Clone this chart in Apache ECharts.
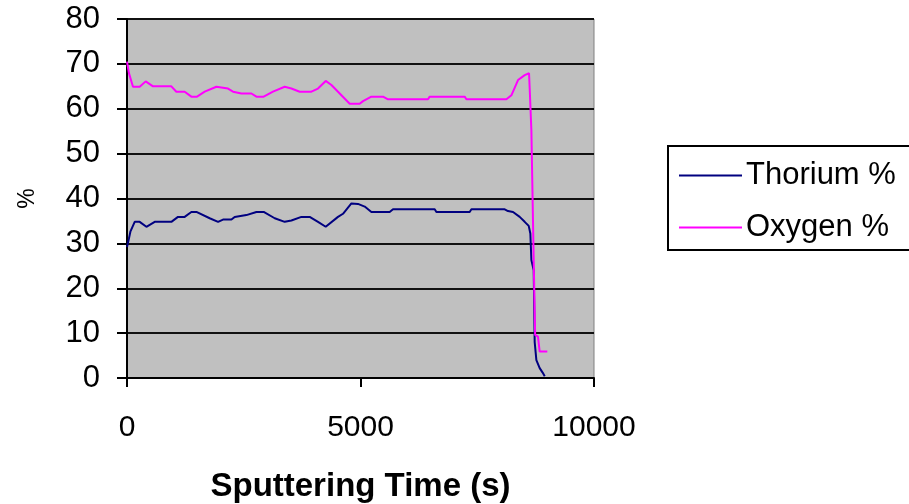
<!DOCTYPE html>
<html>
<head>
<meta charset="utf-8">
<script src="https://cdn.jsdelivr.net/npm/echarts@6/dist/echarts.min.js"></script>
<style>
  html, body { margin: 0; padding: 0; background: #fff; }
  #chart { width: 909px; height: 504px; }
</style>
</head>
<body>
<div id="chart"></div>
<script>
// sputtering time (s) and atomic %
var thoriumTime = [0, 40, 72, 165, 272, 415, 593, 950, 1092, 1235, 1378, 1486, 1771, 1950, 2056, 2236, 2306, 2556, 2771, 2927,
  3163, 3377, 3520, 3734, 3912, 4090, 4255, 4518, 4625, 4805, 4946, 5090, 5233, 5625, 5696, 6589, 6625, 7338, 7375, 8088,
  8158, 8266, 8409, 8516, 8602, 8637, 8659, 8709, 8730, 8766, 8837, 8900, 8945];
var thoriumPct = [29.2, 31, 32.6, 34.8, 34.8, 33.7, 34.8, 34.8, 35.9, 35.9, 37.0, 37.0, 35.6, 34.8, 35.3, 35.3, 35.9, 36.3, 37.0, 37.0,
  35.6, 34.8, 35.1, 35.9, 35.9, 34.8, 33.7, 35.9, 36.6, 38.9, 38.8, 38.2, 37.0, 37.0, 37.6, 37.6, 37.0, 37.0, 37.6, 37.6,
  37.2, 37.0, 35.9, 34.8, 33.9, 32.2, 26.3, 24.0, 8.0, 4.0, 2.2, 1.2, 0.4];

var oxygenTime = [0, 40, 128, 272, 400, 557, 950, 1057, 1235, 1378, 1500, 1664, 1914, 2163, 2270, 2450, 2664, 2771, 2927,
  3126, 3377, 3520, 3698, 3949, 4090, 4255, 4377, 4769, 4983, 5054, 5233, 5482, 5589, 6445, 6482, 7231, 7268, 8124,
  8231, 8373, 8516, 8609, 8623, 8659, 8709, 8740, 8800, 8837, 9000];
var oxygenPct = [70.5, 68, 64.9, 64.9, 66.1, 65.0, 65.0, 63.8, 63.8, 62.7, 62.7, 63.8, 64.9, 64.5, 63.8, 63.4, 63.4, 62.7, 62.7,
  63.8, 64.9, 64.5, 63.8, 63.8, 64.5, 66.2, 65.3, 61.1, 61.1, 61.7, 62.7, 62.7, 62.1, 62.1, 62.7, 62.7, 62.1, 62.1,
  63.0, 66.4, 67.5, 67.9, 64.5, 55.2, 26.0, 9.6, 9.2, 5.9, 5.9];

var xTicks = [0, 5000, 10000];
var yTicks = [0, 10, 20, 30, 40, 50, 60, 70, 80];

function pairs(xs, ys) {
  var out = [];
  for (var i = 0; i < xs.length; i++) out.push([xs[i], ys[i]]);
  return out;
}

var font = 'Liberation Sans, Arial, sans-serif';
var chart = echarts.init(document.getElementById('chart'), null, { renderer: 'canvas' });

chart.setOption({
  animation: false,
  backgroundColor: '#fff',
  grid: {
    left: 127,
    right: 315,
    top: 19,
    bottom: 126,
    outerBoundsMode: 'none',
    containLabel: false,
    show: true,
    backgroundColor: '#c0c0c0',
    borderColor: '#808080',
    borderWidth: 1
  },
  legend: {
    orient: 'vertical',
    left: 668,
    top: 146,
    padding: [14, 40, 7, 11],
    itemGap: 21,
    itemWidth: 63,
    itemHeight: 2,
    icon: 'rect',
    borderColor: '#000',
    borderWidth: 2,
    backgroundColor: '#fff',
    textStyle: { fontFamily: font, fontSize: 31, color: '#000', padding: [0, 0, 0, -1] },
    data: ['Thorium %', 'Oxygen %']
  },
  xAxis: {
    type: 'value',
    min: xTicks[0],
    max: xTicks[xTicks.length - 1],
    interval: xTicks[1] - xTicks[0],
    name: 'Sputtering Time (s)',
    nameLocation: 'middle',
    nameGap: 92,
    nameTextStyle: { fontFamily: font, fontSize: 33, fontWeight: 'bold', color: '#000' },
    axisLine: { lineStyle: { color: '#000', width: 2 } },
    axisTick: { show: true, length: 9, lineStyle: { color: '#000', width: 2 } },
    axisLabel: { margin: 35, fontFamily: font, fontSize: 30, color: '#000', formatter: function (v) { return String(v); } },
    splitLine: { show: false }
  },
  yAxis: {
    type: 'value',
    min: yTicks[0],
    max: yTicks[yTicks.length - 1],
    interval: yTicks[1] - yTicks[0],
    name: '%',
    nameLocation: 'middle',
    nameRotate: 90,
    nameGap: 88,
    nameTextStyle: { fontFamily: font, fontSize: 23, color: '#000' },
    axisLine: { show: true, lineStyle: { color: '#000', width: 2 } },
    axisTick: { show: true, length: 10, lineStyle: { color: '#000', width: 2 } },
    axisLabel: { margin: 27, fontFamily: font, fontSize: 31, color: '#000' },
    splitLine: { show: true, lineStyle: { color: '#111', width: 2 } }
  },
  series: [
    {
      name: 'Thorium %',
      type: 'line',
      showSymbol: false,
      color: '#000080',
      lineStyle: { width: 2, color: '#000080' },
      data: pairs(thoriumTime, thoriumPct)
    },
    {
      name: 'Oxygen %',
      type: 'line',
      showSymbol: false,
      color: '#ff00ff',
      lineStyle: { width: 2, color: '#ff00ff' },
      data: pairs(oxygenTime, oxygenPct)
    }
  ]
});
</script>
</body>
</html>
